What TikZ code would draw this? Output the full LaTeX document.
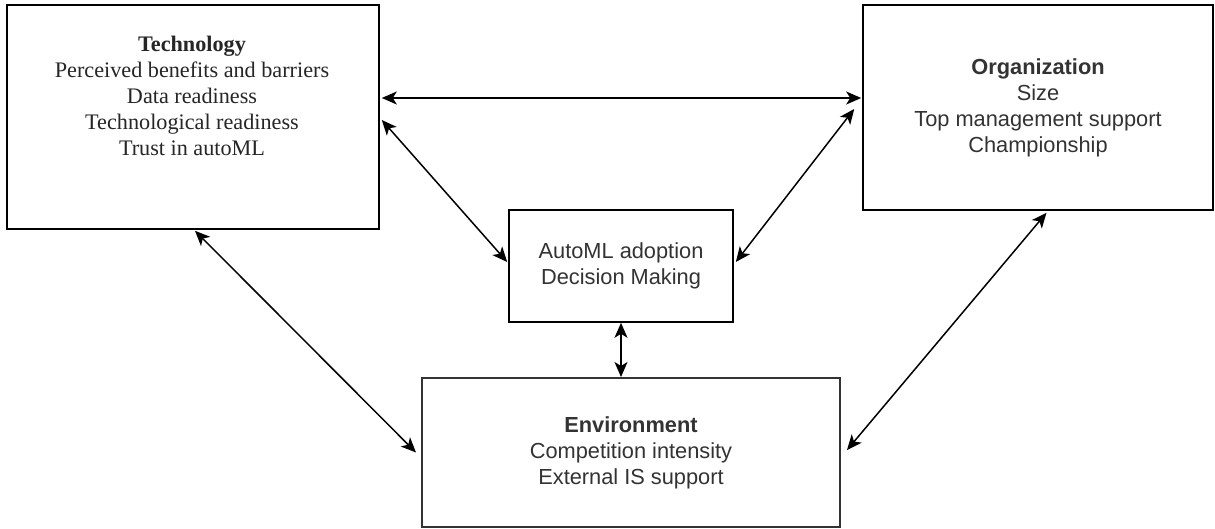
\documentclass[tikz,border=0pt]{standalone}
\usepackage{fontspec}
\setmainfont{Liberation Serif}
\setsansfont{Liberation Sans}
\usetikzlibrary{arrows.meta}
\begin{document}
\begin{tikzpicture}[x=1pt,y=-1pt,
  box/.style={draw=black, line width=1.6pt, fill=white, inner sep=0pt},
  serif text/.style={align=center, font=\fontsize{22.2}{26}\selectfont\rmfamily, text=black!85},
  sans text/.style={align=center, font=\fontsize{21.8}{26}\selectfont\sffamily, text=black!80},
  link/.style={line width=1.5pt, {Stealth[length=15pt,width=13pt,inset=4pt]}-{Stealth[length=15pt,width=13pt,inset=4pt]}}
]
\useasboundingbox[fill=white] (0,0) rectangle (1215,529);

\node[box, minimum width=372pt, minimum height=224pt] (tech) at (193,117) {};
\node[serif text] (techtext) at (192,96) {\textbf{Technology}\\Perceived benefits and barriers\\Data readiness\\Technological readiness\\Trust in autoML};

\node[box, sans text, minimum width=350pt, minimum height=205pt] (org) at (1038,107.5)
  {\textbf{Organization}\\Size\\Top management support\\Championship};

\node[box, sans text, minimum width=224pt, minimum height=112pt] (auto) at (621,266)
  {AutoML adoption\\Decision Making};

\node[box, sans text, draw=black!80, line width=2pt, minimum width=418pt, minimum height=149pt] (env) at (631,452.5)
  {\textbf{Environment}\\Competition intensity\\External IS support};

\draw[link] ([xshift=2pt,yshift=19pt]tech.east) -- ([xshift=-1pt,yshift=9.5pt]org.west);
\draw[link] ([xshift=2pt,yshift=-3pt]tech.east) -- ([xshift=-1pt,yshift=4pt]auto.west);
\draw[link] ([xshift=-8pt,yshift=-1.5pt]org.west) -- ([xshift=2pt,yshift=4pt]auto.east);
\draw[link] (auto.south) -- (auto.south |- env.north);
\draw[link] ([xshift=2pt,yshift=-1pt]tech.south) -- ([xshift=-5pt]env.west);
\draw[link] ([xshift=8.5pt,yshift=-2pt]org.south) -- ([xshift=6pt,yshift=2.5pt]env.east);
\end{tikzpicture}
\end{document}
